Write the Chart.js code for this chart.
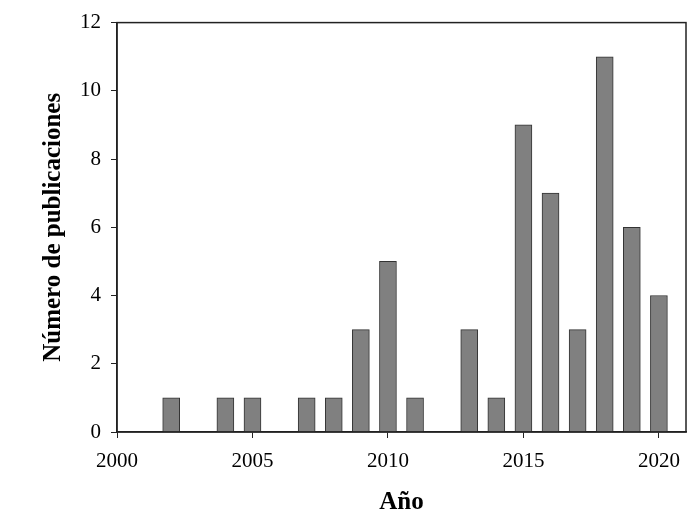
<!DOCTYPE html>
<html>
<head>
<meta charset="utf-8">
<script src="https://cdn.jsdelivr.net/npm/chart.js@4"></script>
<style>
  html, body { margin: 0; padding: 0; background: #fff; }
  #wrap { width: 700px; height: 515px; }
</style>
</head>
<body>
<div id="wrap"><canvas id="chart" width="700" height="515"></canvas></div>
<script>
// Publications per year
const years = [2002, 2004, 2005, 2007, 2008, 2009, 2010, 2011, 2013, 2014, 2015, 2016, 2017, 2018, 2019, 2020];
const counts = [1, 1, 1, 1, 1, 3, 5, 1, 3, 1, 9, 7, 3, 11, 6, 4];
const xTicks = [2000, 2005, 2010, 2015, 2020];
const yTicks = [0, 2, 4, 6, 8, 10, 12];

const serif = '"Liberation Serif", "Times New Roman", serif';

// draw the box around the plot area
const frame = {
    id: 'frame',
    afterDraw(chart) {
        const a = chart.chartArea;
        const ctx = chart.ctx;
        ctx.save();
        ctx.strokeStyle = '#222';
        ctx.lineWidth = 1.5;
        ctx.strokeRect(a.left, a.top, a.right - a.left, a.bottom - a.top);
        ctx.restore();
    }
};

new Chart(document.getElementById('chart'), {
    type: 'bar',
    data: {
        datasets: [{
            data: years.map((y, i) => ({ x: y, y: counts[i] })),
            backgroundColor: '#808080',
            borderColor: '#333',
            borderWidth: 1,
            barThickness: 17
        }]
    },
    options: {
        responsive: false,
        animation: false,
        layout: { padding: { top: 22, right: 14, left: 35, bottom: 0 } },
        plugins: { legend: { display: false }, tooltip: { enabled: false } },
        scales: {
            x: {
                type: 'linear',
                min: 2000,
                max: 2021,
                offset: false,
                afterBuildTicks: (scale) => { scale.ticks = xTicks.map(v => ({ value: v })); },
                afterFit: (scale) => { scale.height = 83; },
                border: { display: true, color: '#222', width: 1.5 },
                grid: { offset: false, drawOnChartArea: false, drawTicks: true, tickLength: 6, color: '#222', tickColor: '#222' },
                ticks: {
                    color: '#000',
                    font: { family: serif, size: 21 },
                    padding: 11,
                    maxRotation: 0,
                    callback: (v) => String(v)
                },
                title: {
                    display: true,
                    text: 'Año',
                    color: '#000',
                    font: { family: serif, size: 25, weight: 'bold' },
                    padding: { top: 0, bottom: -3 }
                }
            },
            y: {
                min: 0,
                max: 12,
                afterBuildTicks: (scale) => { scale.ticks = yTicks.map(v => ({ value: v })); },
                afterFit: (scale) => { scale.width = 82; },
                border: { display: true, color: '#222', width: 1.5 },
                grid: { drawOnChartArea: false, drawTicks: true, tickLength: 6, color: '#222', tickColor: '#222' },
                ticks: {
                    color: '#000',
                    font: { family: serif, size: 21 },
                    padding: 10
                },
                title: {
                    display: true,
                    text: 'Número de publicaciones',
                    color: '#000',
                    font: { family: serif, size: 25, weight: 'bold' },
                    padding: { bottom: 0 }
                }
            }
        }
    },
    plugins: [frame]
});
</script>
</body>
</html>
